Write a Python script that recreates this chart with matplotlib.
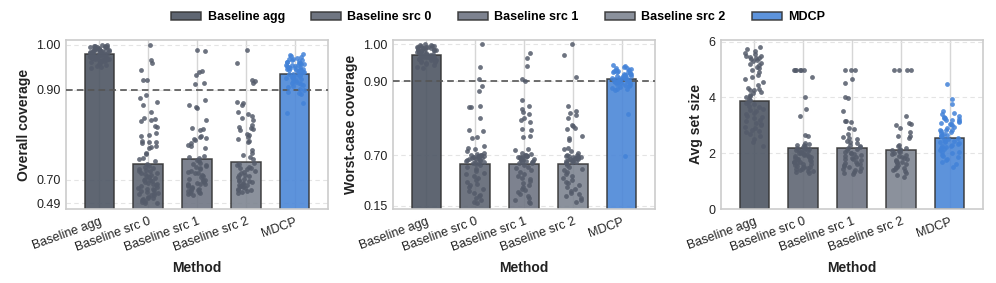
import numpy as np
import matplotlib
matplotlib.use('Agg')
import matplotlib.pyplot as plt
from matplotlib.patches import Patch

plt.rcParams['font.family'] = ['Liberation Sans', 'DejaVu Sans']

methods = ['Baseline agg', 'Baseline src 0', 'Baseline src 1', 'Baseline src 2', 'MDCP']

# ---- bar heights (means) ----
ov_bars = [0.979, 0.735, 0.745, 0.739, 0.936]
wc_bars = [0.971, 0.600, 0.607, 0.600, 0.905]
ss_bars = [3.89, 2.20, 2.18, 2.12, 2.54]

# ---- per-run values: overall coverage ----
ov_agg = [1.000, 0.999, 0.998, 0.998, 0.997, 0.996, 0.996, 0.995, 0.994, 0.993, 0.993, 0.992, 0.991,
          0.990, 0.990, 0.989, 0.988, 0.987, 0.987, 0.986, 0.985, 0.985, 0.984, 0.983, 0.982, 0.981,
          0.981, 0.980, 0.979, 0.978, 0.978, 0.977, 0.976, 0.975, 0.975, 0.974, 0.973, 0.972, 0.971,
          0.970, 0.969, 0.968, 0.967, 0.966, 0.965, 0.963, 0.962, 0.960, 0.958, 0.956, 0.953, 0.950,
          0.948, 0.995, 0.991, 0.984, 0.979, 0.973, 0.969, 0.964]
ov_src0 = [1.000, 0.965, 0.960, 0.944, 0.922, 0.921, 0.889, 0.882, 0.872, 0.867, 0.851, 0.838, 0.836,
           0.833, 0.831, 0.820, 0.818, 0.804, 0.800, 0.797, 0.785, 0.784, 0.783, 0.782, 0.776, 0.773,
           0.771, 0.760, 0.758, 0.748, 0.745, 0.742,
           0.734, 0.731, 0.729, 0.726, 0.724, 0.721, 0.719, 0.716, 0.714, 0.711, 0.709, 0.706, 0.704,
           0.701, 0.695, 0.688, 0.680, 0.672, 0.664, 0.655, 0.646, 0.638, 0.630, 0.621, 0.612, 0.603,
           0.595, 0.586, 0.577, 0.568, 0.560, 0.550, 0.541, 0.532, 0.523, 0.514, 0.505, 0.496, 0.490,
           0.720, 0.712, 0.700, 0.660, 0.620, 0.580, 0.540]
ov_src1 = [0.988, 0.985, 0.941, 0.940, 0.933, 0.915, 0.913, 0.877, 0.865, 0.862, 0.860, 0.833, 0.816,
           0.813, 0.811, 0.797, 0.795, 0.792, 0.790, 0.788, 0.781, 0.778, 0.774, 0.771, 0.752, 0.750,
           0.748,
           0.744, 0.741, 0.738, 0.735, 0.732, 0.729, 0.726, 0.723, 0.720, 0.717, 0.714, 0.711, 0.708,
           0.705, 0.702, 0.697, 0.690, 0.682, 0.674, 0.666, 0.658, 0.650, 0.642, 0.634, 0.626, 0.618,
           0.610, 0.602, 0.594, 0.586, 0.578, 0.570, 0.562, 0.730, 0.715, 0.700, 0.660, 0.620, 0.600]
ov_src2 = [0.988, 0.959, 0.921, 0.919, 0.915, 0.873, 0.870, 0.866, 0.850, 0.846, 0.842, 0.838, 0.833,
           0.821, 0.818, 0.815, 0.812, 0.810, 0.802, 0.799, 0.795, 0.791, 0.787, 0.783, 0.765, 0.760,
           0.755, 0.750, 0.746,
           0.738, 0.735, 0.732, 0.729, 0.726, 0.723, 0.720, 0.717, 0.714, 0.711, 0.708, 0.705, 0.702,
           0.696, 0.688, 0.680, 0.672, 0.664, 0.656, 0.648, 0.640, 0.632, 0.624, 0.616, 0.608, 0.600,
           0.592, 0.584, 0.725, 0.710, 0.690, 0.650, 0.610]
ov_mdcp = [0.979, 0.977, 0.975, 0.973, 0.971, 0.969, 0.968, 0.966, 0.965, 0.963, 0.962, 0.960, 0.959,
           0.958, 0.956, 0.955, 0.954, 0.952, 0.951, 0.950, 0.949, 0.948, 0.947, 0.946, 0.945, 0.944,
           0.943, 0.942, 0.941, 0.940, 0.939, 0.938, 0.937, 0.936, 0.935, 0.934, 0.933, 0.932, 0.931,
           0.930, 0.928, 0.927, 0.925, 0.924, 0.922, 0.920, 0.918, 0.916, 0.914, 0.912, 0.910, 0.908,
           0.905, 0.902, 0.899, 0.896, 0.893, 0.890, 0.870, 0.849, 0.961, 0.957, 0.953, 0.948, 0.944]

# ---- per-run values: worst-case coverage ----
wc_agg = [1.000, 0.999, 0.998, 0.997, 0.996, 0.995, 0.994, 0.993, 0.992, 0.991, 0.990, 0.989, 0.988,
          0.987, 0.986, 0.985, 0.984, 0.983, 0.982, 0.981, 0.980, 0.979, 0.978, 0.977, 0.976, 0.975,
          0.974, 0.973, 0.972, 0.971, 0.970, 0.969, 0.968, 0.967, 0.966, 0.965, 0.964, 0.963, 0.962,
          0.961, 0.960, 0.958, 0.957, 0.955, 0.953, 0.951, 0.949, 0.946, 0.943, 0.940, 0.937, 0.992,
          0.985, 0.978, 0.971, 0.965, 0.959]
wc_src0 = [1.000, 0.939, 0.907, 0.886, 0.873, 0.833, 0.831, 0.829, 0.801, 0.767, 0.765, 0.749, 0.747,
           0.725, 0.720, 0.715, 0.710, 0.706, 0.703, 0.701,
           0.698, 0.695, 0.692, 0.689, 0.686, 0.683, 0.680, 0.676, 0.672, 0.668, 0.664, 0.660, 0.655,
           0.650, 0.645, 0.640, 0.634, 0.628, 0.622, 0.616, 0.610, 0.604,
           0.590, 0.570, 0.550, 0.530, 0.510, 0.490, 0.470, 0.450, 0.430, 0.410, 0.390, 0.370, 0.350,
           0.330, 0.310, 0.290, 0.270, 0.250, 0.230, 0.210, 0.190, 0.180]
wc_src1 = [0.977, 0.962, 0.941, 0.907, 0.900, 0.848, 0.832, 0.825, 0.818, 0.810, 0.800, 0.795, 0.790,
           0.770, 0.768, 0.752, 0.748, 0.716, 0.714, 0.705, 0.702,
           0.699, 0.696, 0.693, 0.690, 0.686, 0.682, 0.678, 0.674, 0.670, 0.665, 0.660, 0.655, 0.650,
           0.644, 0.638, 0.632, 0.626, 0.620, 0.614, 0.608,
           0.595, 0.575, 0.555, 0.535, 0.515, 0.495, 0.475, 0.455, 0.435, 0.415, 0.395, 0.375, 0.355,
           0.335, 0.315, 0.295, 0.275, 0.255, 0.235, 0.215, 0.195, 0.175]
wc_src2 = [1.000, 0.971, 0.912, 0.832, 0.820, 0.815, 0.808, 0.800, 0.782, 0.778, 0.774, 0.770, 0.752,
           0.746, 0.741, 0.720, 0.715, 0.710, 0.705,
           0.699, 0.696, 0.692, 0.688, 0.684, 0.680, 0.676, 0.672, 0.668, 0.664, 0.660, 0.655, 0.650,
           0.644, 0.638, 0.632, 0.626, 0.620, 0.614, 0.608,
           0.592, 0.572, 0.552, 0.532, 0.512, 0.492, 0.472, 0.452, 0.432, 0.412, 0.392, 0.372, 0.352,
           0.332, 0.312, 0.292, 0.272, 0.252, 0.232, 0.212, 0.192]
wc_mdcp = [0.944, 0.941, 0.939, 0.937, 0.935, 0.933, 0.931, 0.929, 0.927, 0.926, 0.924, 0.922, 0.921,
           0.919, 0.918, 0.916, 0.915, 0.913, 0.912, 0.910, 0.909, 0.908, 0.906, 0.905, 0.904, 0.903,
           0.902, 0.901, 0.900, 0.899, 0.898, 0.897, 0.896, 0.894, 0.893, 0.891, 0.889, 0.887, 0.885,
           0.883, 0.880, 0.878, 0.875, 0.810, 0.690, 0.930, 0.925, 0.920, 0.915, 0.911, 0.907]

# ---- per-run values: average set size ----
ss_agg = [5.80, 5.72, 5.65, 5.60, 5.55, 5.50, 5.48, 5.45, 5.42, 5.40, 5.38, 5.35, 5.30, 5.25, 5.20,
          5.15, 5.10, 5.05, 5.00, 4.90, 4.80, 4.75, 4.65, 4.55, 4.45, 4.35, 4.30, 4.28, 4.25, 4.20,
          4.15, 4.10, 4.05, 4.00, 3.95, 3.90, 3.85, 3.80, 3.75, 3.70, 3.65, 3.60, 3.55, 3.50, 3.45,
          3.40, 3.35, 3.30, 3.25, 3.20, 3.15, 3.10, 3.05, 3.00, 2.95, 2.90, 2.85, 2.80, 2.75, 2.70,
          2.60, 2.50, 2.40, 2.25]
ss_src0 = [5.0, 5.0, 5.0, 5.0, 5.0, 5.0, 4.75, 4.0, 3.57, 3.33, 2.65, 2.60, 2.35, 2.32, 2.30, 2.28,
           2.25, 2.22, 2.20, 2.18, 2.15, 2.12, 2.10, 2.08, 2.05, 2.02, 2.00, 1.98, 1.95, 1.92, 1.90,
           1.88, 1.85, 1.82, 1.80, 1.78, 1.75, 1.72, 1.70, 1.68, 1.65, 1.62, 1.60, 1.58, 1.55, 1.52,
           1.50, 1.48, 1.45, 1.42, 1.40, 1.38, 1.35, 1.32, 1.30, 2.10, 1.90, 1.70, 1.50]
ss_src1 = [5.0, 5.0, 5.0, 4.67, 4.51, 4.0, 3.98, 3.5, 3.17, 3.15, 3.12, 2.92, 2.88, 2.70, 2.58, 2.55,
           2.50, 2.45, 2.40, 2.35, 2.30, 2.26, 2.22, 2.18, 2.14, 2.10, 2.06, 2.02, 1.98, 1.94, 1.90,
           1.86, 1.82, 1.78, 1.74, 1.70, 1.66, 1.62, 1.58, 1.54, 1.50, 1.46, 1.42, 1.38, 1.34, 1.30,
           1.26, 2.0, 1.8, 1.6, 1.4]
ss_src2 = [5.0, 5.0, 5.0, 5.0, 3.35, 3.10, 3.05, 3.00, 2.90, 2.75, 2.62, 2.60, 2.55, 2.30, 2.25, 2.20,
           2.16, 2.12, 2.08, 2.04, 2.00, 1.96, 1.92, 1.88, 1.84, 1.80, 1.76, 1.72, 1.68, 1.64, 1.60,
           1.56, 1.52, 1.48, 1.44, 1.40, 1.36, 1.30, 1.22, 1.15, 2.1, 1.9, 1.7, 1.5]
ss_mdcp = [4.47, 3.96, 3.76, 3.50, 3.45, 3.40, 3.35, 3.30, 3.28, 3.25, 3.22, 3.20, 3.18, 3.15, 3.12,
           3.10, 3.05, 3.00, 2.95, 2.90, 2.85, 2.82, 2.80, 2.75, 2.72, 2.70, 2.65, 2.62, 2.60, 2.55,
           2.52, 2.50, 2.45, 2.42, 2.40, 2.35, 2.32, 2.30, 2.25, 2.22, 2.20, 2.15, 2.10, 2.05, 2.00,
           1.95, 1.90, 1.85, 1.80, 1.75, 1.70, 1.60, 1.50, 3.05, 2.85, 2.65, 2.45, 2.25, 2.05]

ov_ticks = [0.49, 0.70, 0.90, 1.00]
wc_ticks = [0.15, 0.70, 0.90, 1.00]
ss_ticks = [0, 2, 4, 6]

bar_colors = ['#4d5563', '#5f6673', '#6f7583', '#7e8591', '#4b87d8']
pt_colors = ['#545b6a', '#545b6a', '#545b6a', '#545b6a', '#4282d8']

BREAK, SQUEEZE = 0.7, 0.25


def fwd(y):
    y = np.asarray(y, dtype=float)
    return np.where(y >= BREAK, y, BREAK - (BREAK - y) * SQUEEZE)


def inv(t):
    t = np.asarray(t, dtype=float)
    return np.where(t >= BREAK, t, BREAK - (BREAK - t) / SQUEEZE)


fig = plt.figure(figsize=(9.96, 2.83), dpi=100)
W, H = 996, 283
boxes = [(66, 328), (393, 655), (721, 983)]
top_px, bot_px = 40, 209

panels = [
    (ov_bars, [ov_agg, ov_src0, ov_src1, ov_src2, ov_mdcp], 'Overall coverage', ov_ticks,
     (0.44, 1.0105), True, ['0.49', '0.70', '0.90', '1.00']),
    (wc_bars, [wc_agg, wc_src0, wc_src1, wc_src2, wc_mdcp], 'Worst-case coverage', wc_ticks,
     (0.114, 1.012), True, ['0.15', '0.70', '0.90', '1.00']),
    (ss_bars, [ss_agg, ss_src0, ss_src1, ss_src2, ss_mdcp], 'Avg set size', ss_ticks,
     (0, 6.06), False, ['0', '2', '4', '6']),
]

# horizontal strip jitter (positions only, not data)
jit = np.random.default_rng(7)

x = np.arange(len(methods))
for (l, r), (bars, pts, ylab, ticks, ylim, broken, tlabels) in zip(boxes, panels):
    ax = fig.add_axes([l / W, 1 - bot_px / H, (r - l) / W, (bot_px - top_px) / H])
    if broken:
        ax.set_yscale('function', functions=(fwd, inv))
    ax.set_axisbelow(True)
    ax.xaxis.grid(True, color='#d6d6d6', lw=1.0, ls='-', zorder=0)
    ax.yaxis.grid(True, color='#e4e4e4', lw=0.8, ls=(0, (4, 3)), zorder=0)
    ax.bar(x, bars, width=0.6, color=bar_colors, edgecolor='#333333', linewidth=1.1,
           alpha=0.9, zorder=2)
    if broken:
        ax.axhline(0.9, color='#555555', ls=(0, (4, 2.5)), lw=1.2, zorder=3)
    for i, vals in enumerate(pts):
        vals = np.asarray(vals, dtype=float)
        off = jit.uniform(-0.2, 0.2, len(vals))
        ax.scatter(x[i] + off, vals, s=12, color=pt_colors[i], alpha=0.85,
                   linewidths=0, zorder=4)
    ax.set_xlim(-0.68, 4.68)
    ax.set_ylim(*ylim)
    ax.set_yticks(ticks)
    ax.set_yticklabels(tlabels)
    ax.minorticks_off()
    ax.set_xticks(x)
    ax.set_xticklabels(methods, rotation=20, ha='right', rotation_mode='anchor', fontsize=9)
    ax.tick_params(axis='both', length=0, labelsize=9, colors='#222222', pad=4)
    ax.tick_params(axis='x', pad=5)
    for s in ax.spines.values():
        s.set_color('#cccccc')
        s.set_linewidth(1.2)
    ax.set_ylabel(ylab, fontsize=10, fontweight='bold', color='#222222')
    ax.set_xlabel('Method', fontsize=10, fontweight='bold', color='#222222', labelpad=5)

handles = [Patch(facecolor=c, edgecolor='#333333', linewidth=1.1, alpha=0.9) for c in bar_colors]
fig.legend(handles, methods, loc='upper center', bbox_to_anchor=(0.5, 1.0), ncol=5,
           frameon=False, prop={'weight': 'bold', 'size': 9}, handlelength=2.4,
           handleheight=0.7, handletextpad=0.5, columnspacing=2.1)

fig.savefig('out.png', dpi=100)
